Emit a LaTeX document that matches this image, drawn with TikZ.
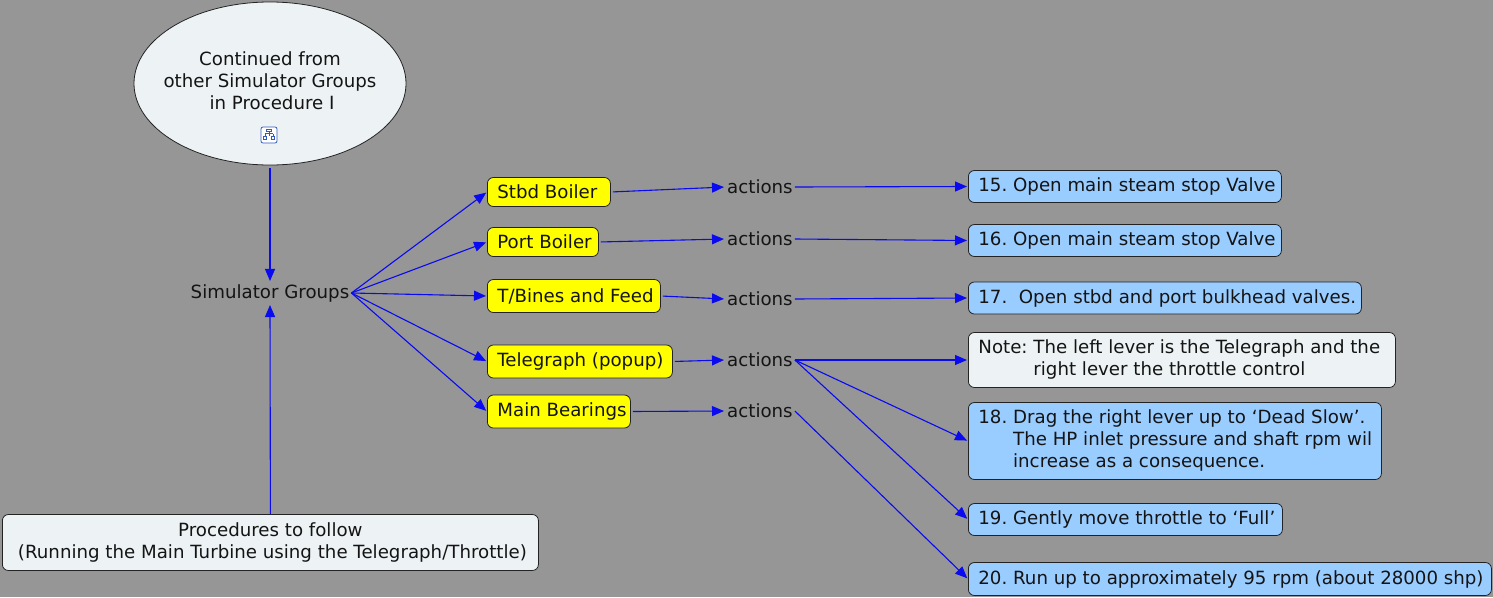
\documentclass[tikz,border=0pt]{standalone}
\usepackage{fontspec}
\setmainfont{DejaVu Sans}
\usetikzlibrary{arrows.meta,shapes.geometric}
\definecolor{bg}{RGB}{150,150,150}
\definecolor{pale}{RGB}{237,243,245}
\definecolor{lblue}{RGB}{153,204,255}
\definecolor{ylw}{RGB}{255,255,0}
\definecolor{edge}{RGB}{35,35,35}
\definecolor{arr}{RGB}{10,10,240}
\definecolor{txt}{RGB}{20,20,20}
\definecolor{iconblue}{RGB}{50,90,190}
\newcommand{\fixbox}[2]{\makebox[#1][l]{#2}}
\begin{document}
\begin{tikzpicture}[x=1pt,y=-1pt,
  every node/.style={font=\fontsize{18.2}{22}\selectfont\frenchspacing, text=txt},
  boxbase/.style={draw=edge, line width=0.8pt, rounded corners=6pt, anchor=west, inner xsep=10pt, inner ysep=0pt, align=left},
  ybox/.style={boxbase, fill=ylw},
  bbox/.style={boxbase, fill=lblue},
  pbox/.style={boxbase, fill=pale},
  plain/.style={inner sep=2pt},
  conn/.style={draw=arr, line width=1.1pt, -{Triangle[length=12pt,width=10pt]}, shorten >=1pt}
]
\useasboundingbox (0,0) rectangle (1493,597);
\fill[bg] (0,0) rectangle (1493,597);

% ellipse
\node[ellipse, draw=edge, line width=0.8pt, fill=pale, minimum width=272pt, minimum height=163pt, inner sep=0pt] (ell) at (270,83.5) {};
\node[align=center, inner sep=0pt] (elltxt) at (270,81) {Continued from\\other Simulator Groups\\\hspace*{4pt}in Procedure I};
\node[draw=iconblue, line width=0.8pt, fill=white, rounded corners=2pt, minimum size=16pt, inner sep=0pt] (icon) at (269,135) {};
\draw[iconblue, line width=0.6pt] (266.5,129) rectangle (271.5,131.5);
\draw[iconblue, line width=0.6pt] (269,131.5) -- (269,133.5) (265,133.5) -- (273,133.5) (265,133.5) -- (265,136) (273,133.5) -- (273,136) (269,133.5) -- (269,136);
\draw[iconblue, line width=0.6pt, fill=white] (263.5,136) rectangle (266.5,139) (271.5,136) rectangle (274.5,139);

\node[plain] (sg) at (270,293) {Simulator Groups};
\node[pbox, align=center, minimum height=56pt] (proc) at (2,542.5) {\makebox[516pt][c]{Procedures to follow}\\ \makebox[516pt][c]{\hspace*{4pt}(Running the Main Turbine using the Telegraph/Throttle)}};

% yellow boxes
\node[ybox, minimum height=29pt] (stbd) at (487,192) {\fixbox{103pt}{Stbd Boiler}};
\node[ybox, minimum height=29pt] (port) at (487,242) {\fixbox{91pt}{Port Boiler}};
\node[ybox, minimum height=33pt] (tb) at (487,296) {\fixbox{153pt}{T/Bines and Feed}};
\node[ybox, minimum height=33pt] (tel) at (487,361.5) {\fixbox{165pt}{Telegraph (popup)}};
\node[ybox, minimum height=33pt] (mb) at (487,411.5) {\fixbox{123pt}{Main Bearings}};

% actions
\node[plain, anchor=west] (a1) at (725,187) {actions};
\node[plain, anchor=west] (a2) at (725,239) {actions};
\node[plain, anchor=west] (a3) at (725,299) {actions};
\node[plain, anchor=west] (a4) at (725,360) {actions};
\node[plain, anchor=west] (a5) at (725,411) {actions};

% right boxes
\node[bbox, minimum height=32pt] (b15) at (968,186.5) {\fixbox{293pt}{15. Open main steam stop Valve}};
\node[bbox, minimum height=32pt] (b16) at (968,240.5) {\fixbox{293pt}{16. Open main steam stop Valve}};
\node[bbox, minimum height=32pt] (b17) at (968,298) {\fixbox{373pt}{17.\ \ Open stbd and port bulkhead valves.}};
\node[pbox, minimum height=55pt] (note) at (968,360) {\fixbox{407pt}{\begin{tabular}{@{}l@{ }l@{}}Note: & The left lever is the Telegraph and the\\ & right lever the throttle control\end{tabular}}};
\node[bbox, minimum height=77pt] (b18) at (968,441) {\fixbox{393pt}{\begin{tabular}{@{}l@{ }l@{}}18. & Drag the right lever up to ‘Dead Slow’.\\ & The HP inlet pressure and shaft rpm wil\\ & increase as a consequence.\end{tabular}}};
\node[bbox, minimum height=32pt] (b19) at (968,519.5) {\fixbox{294pt}{19. Gently move throttle to ‘Full’}};
\node[bbox, minimum height=33pt] (b20) at (968,579) {\fixbox{503pt}{20. Run up to approximately 95 rpm (about 28000 shp)}};

% connectors
\draw[conn, shorten <=3pt] (ell.south) -- (sg.north);
\draw[conn] (proc.north) -- (sg.south);
\foreach \t in {stbd,port,tb,tel,mb} \draw[conn] (sg.east) -- (\t.west);
\draw[conn, shorten <=2pt] (stbd.east) -- (a1.west);
\draw[conn, shorten <=2pt] (port.east) -- (a2.west);
\draw[conn, shorten <=2pt] (tb.east) -- (a3.west);
\draw[conn, shorten <=2pt] (tel.east) -- (a4.west);
\draw[conn, shorten <=2pt] (mb.east) -- (a5.west);
\draw[conn] (a1.east) -- (b15.west);
\draw[conn] (a2.east) -- (b16.west);
\draw[conn] (a3.east) -- (b17.west);
\draw[conn] (a4.east) -- (note.west);
\draw[conn] (a4.east) -- (b18.west);
\draw[conn] (a4.east) -- (b19.west);
\draw[conn] (a5.east) -- (b20.west);
\end{tikzpicture}
\end{document}
